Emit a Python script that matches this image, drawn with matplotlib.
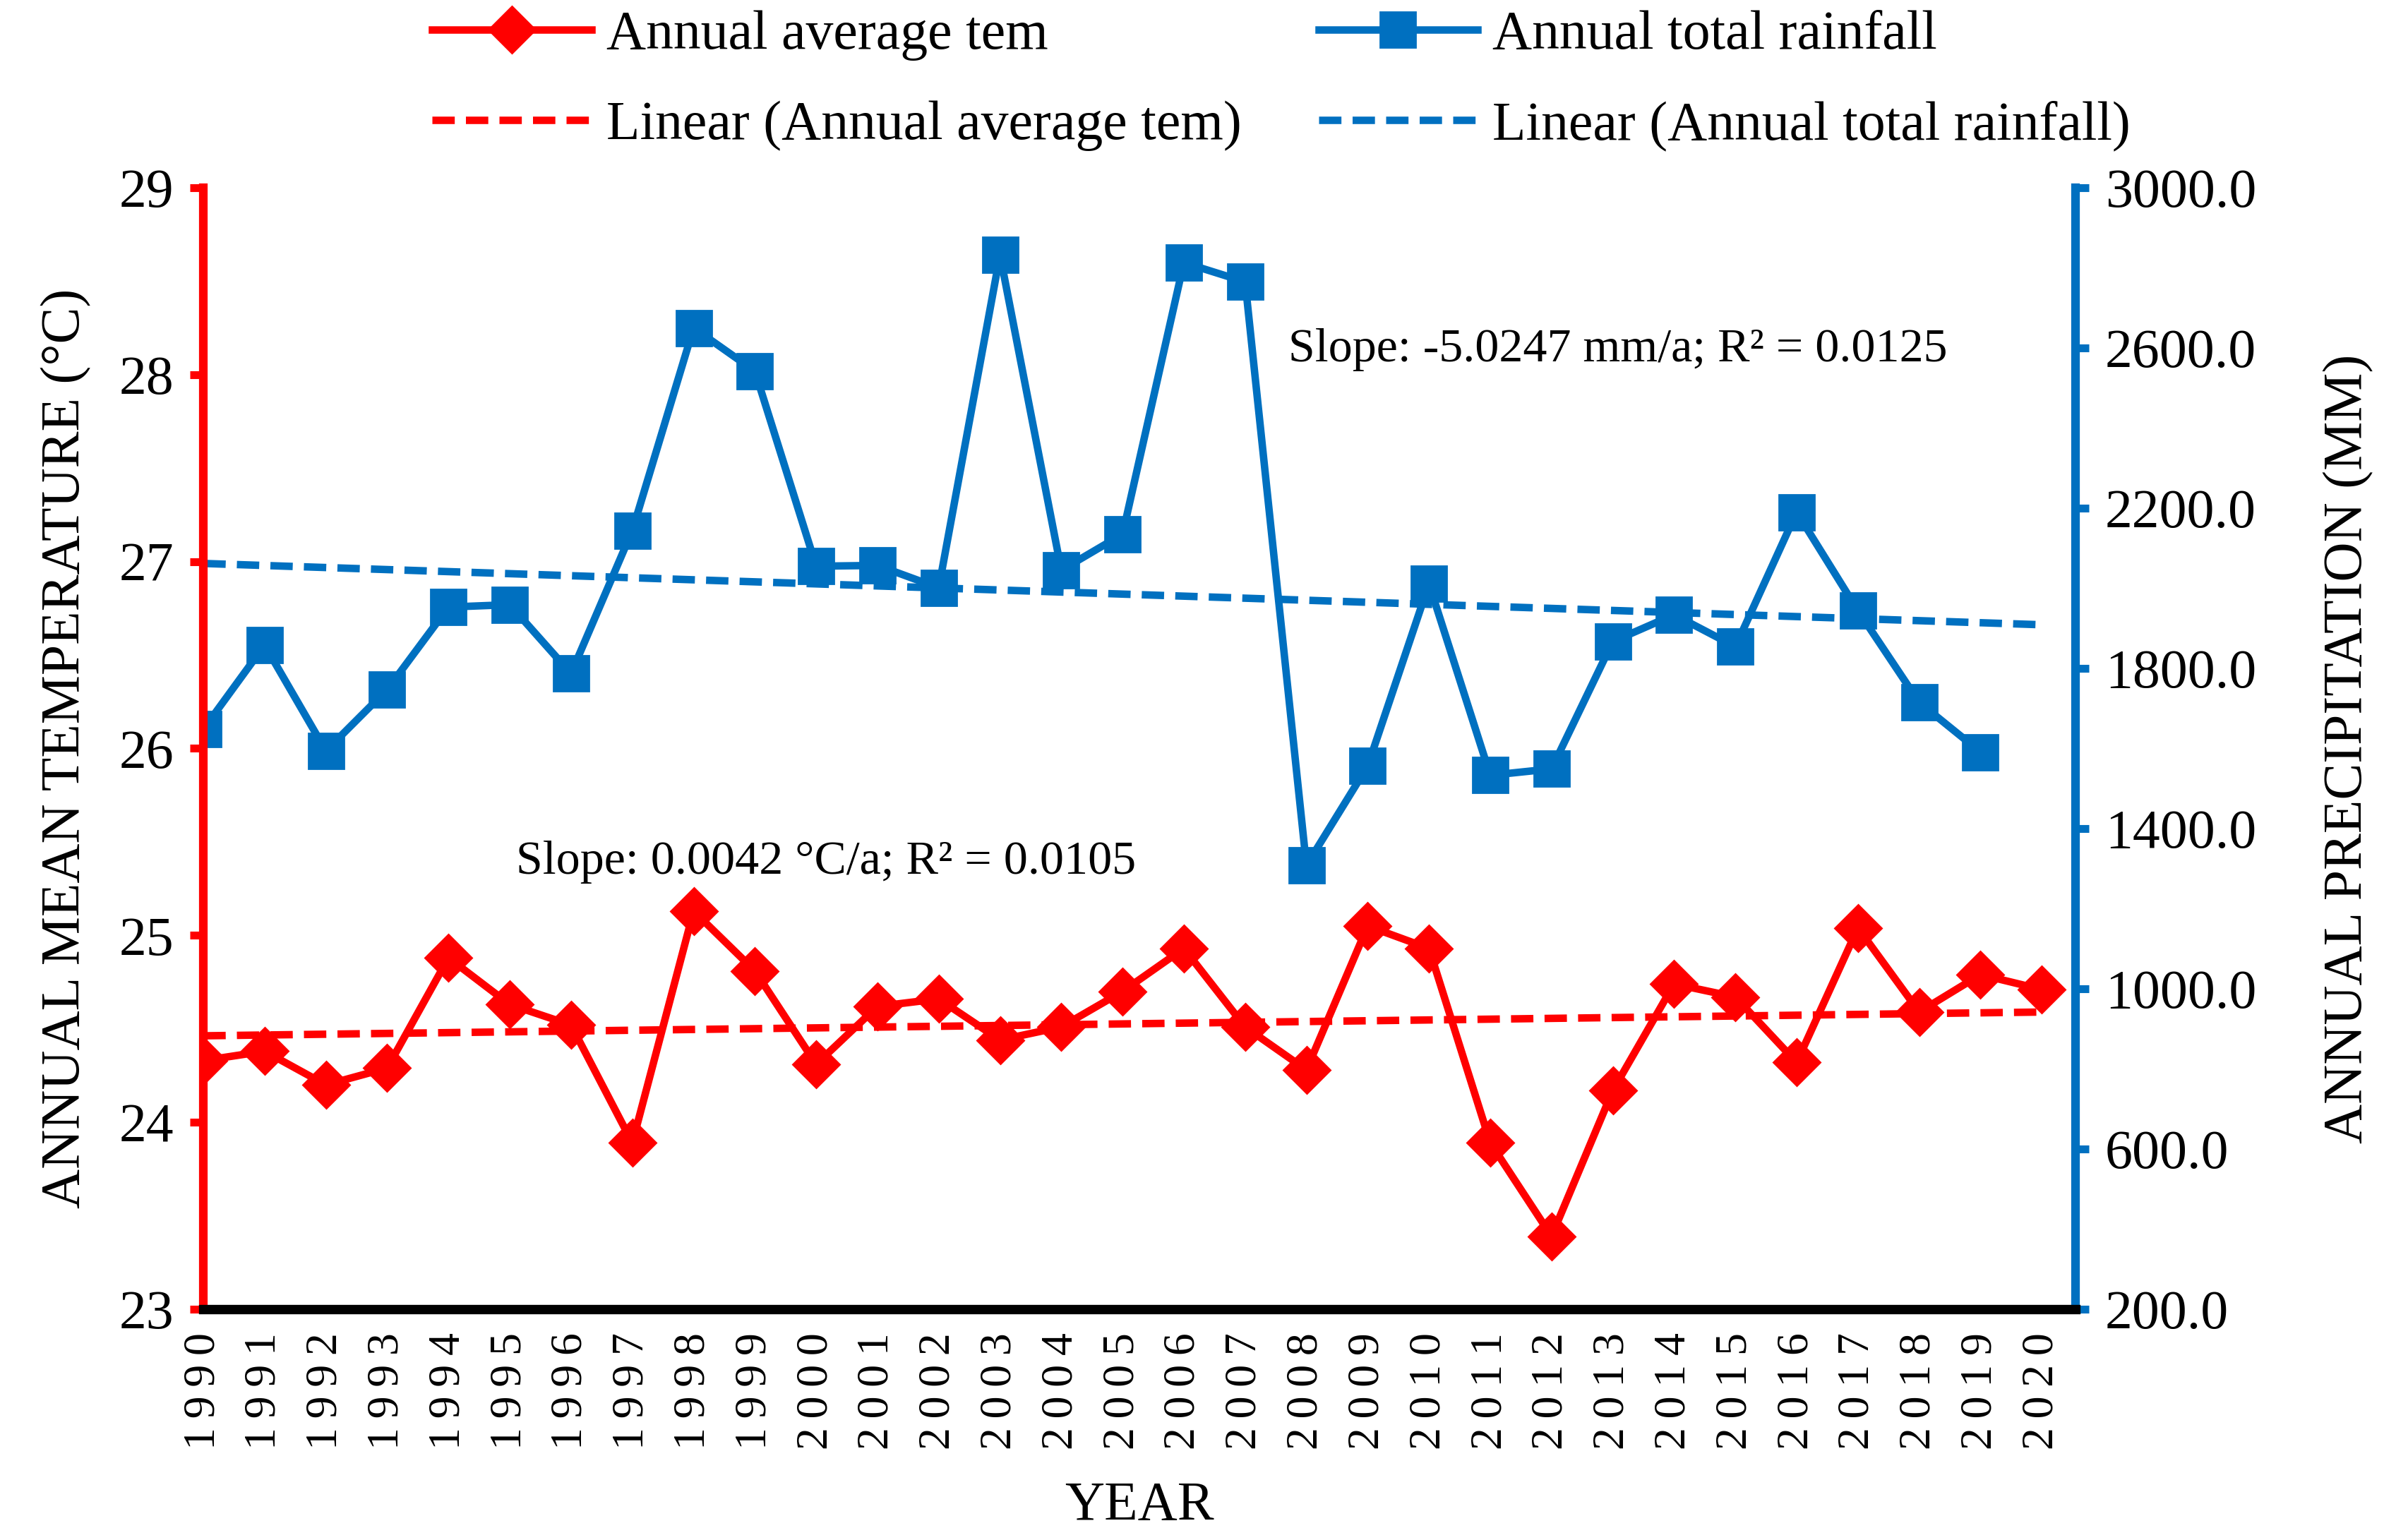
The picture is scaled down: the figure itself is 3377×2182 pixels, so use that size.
import numpy as np
import matplotlib
matplotlib.use("Agg")
import matplotlib.pyplot as plt
from matplotlib.ticker import FuncFormatter

plt.rcParams['font.family'] = ['Liberation Serif', 'DejaVu Serif']

years = list(range(1990, 2021))
temp = [24.33, 24.38, 24.20, 24.29, 24.88, 24.63, 24.52, 23.89, 25.13, 24.81,
        24.31, 24.62, 24.66, 24.44, 24.51, 24.70, 24.93, 24.51, 24.28, 25.05,
        24.93, 23.89, 23.39, 24.17, 24.74, 24.67, 24.32, 25.04, 24.59, 24.79, 24.71]
rain_years = list(range(1990, 2020))
rain = [1648, 1858, 1594, 1747, 1953, 1959, 1787, 2144, 2650, 2542,
        2055, 2057, 2001, 2832, 2045, 2135, 2813, 2765, 1308, 1556,
        2011, 1533, 1549, 1867, 1934, 1854, 2190, 1944, 1715, 1591]
temp_ticks = [23, 24, 25, 26, 27, 28, 29]
rain_ticks = [200, 600, 1000, 1400, 1800, 2200, 2600, 3000]
temp_note = "Slope: 0.0042 \u00b0C/a; R\u00b2 = 0.0105"
rain_note = "Slope: -5.0247 mm/a; R\u00b2 = 0.0125"

RED = '#FF0000'
BLUE = '#0070C0'

fig = plt.figure(figsize=(3377/200, 2182/200), dpi=200)
ax = fig.add_axes([0.0853, 0.1499, 0.8706-0.0853, 0.8781-0.1499])
ax2 = ax.twinx()

yrs = np.array(years, dtype=float)
pt = np.polyfit(np.array(years, float), np.array(temp), 1)
pr = np.polyfit(np.array(rain_years, float), np.array(rain, float), 1)

LW = 3.8
l1, = ax.plot(years, temp, color=RED, lw=LW, marker='D', ms=17, zorder=4,
              label='Annual average tem')
l3, = ax.plot(yrs, np.polyval(pt, yrs), color=RED, lw=LW, ls=(0, (3, 1.5)),
              zorder=3, label='Linear (Annual average tem)')
l2, = ax2.plot(rain_years, rain, color=BLUE, lw=LW, marker='s', ms=18, zorder=4,
               label='Annual total rainfall')
l4, = ax2.plot(yrs, np.polyval(pr, yrs), color=BLUE, lw=LW, ls=(0, (3, 1.5)),
               zorder=3, label='Linear (Annual total rainfall)')

ax.set_xlim(1990, 2020.55)
ax.set_ylim(23, 29)
ax2.set_ylim(200, 3000)

ax.set_yticks(temp_ticks)
ax2.set_yticks(rain_ticks)
ax2.yaxis.set_major_formatter(FuncFormatter(lambda v, p: f"{v:.1f}"))
ax.set_xticks(years)
ax.set_xticklabels(["\u2009".join(str(y)) for y in years], rotation=90)

for a in (ax, ax2):
    a.spines['top'].set_visible(False)
ax.spines['left'].set_color(RED)
ax.spines['left'].set_linewidth(4.4)
ax.spines['right'].set_visible(False)
ax2.spines['left'].set_visible(False)
ax2.spines['bottom'].set_visible(False)
ax2.spines['right'].set_color(BLUE)
ax2.spines['right'].set_linewidth(4.4)
ax.spines['bottom'].set_color('black')
ax.spines['bottom'].set_linewidth(4.8)
ax.spines['bottom'].set_zorder(5)

ax.tick_params(axis='y', colors=RED, labelcolor='black', length=7, width=4.0,
               direction='out', labelsize=28, pad=8)
ax2.tick_params(axis='y', colors=BLUE, labelcolor='black', length=7, width=4.0,
                direction='out', labelsize=28, pad=8)
ax.tick_params(axis='x', which='major', length=0, labelsize=23, pad=12)
ax.set_xticks([y for y in years if y % 2 == 0], minor=True)
ax.tick_params(axis='x', which='minor', direction='in', length=10, width=4.2,
               color='black')

ax.set_ylabel('ANNUAL MEAN TEMPERATURE (\u00b0C)', fontsize=28, labelpad=14)
ax2.set_ylabel('ANNUAL PRECIPITATION (MM)', fontsize=28, labelpad=34)
ax.set_xlabel('YEAR', fontsize=28, labelpad=16)

ax.text(1995.1, 25.39, temp_note, fontsize=24.5, ha='left', va='center')
ax2.text(2007.7, 2596, rain_note, fontsize=24.5, ha='left', va='center')

ax.set_zorder(ax2.get_zorder() + 1)
ax.patch.set_visible(False)

fig.legend(handles=[l1, l3, l2, l4], ncol=2, loc='center',
           bbox_to_anchor=(0.5375, 0.9475), frameon=False, fontsize=28,
           handlelength=2.9, handletextpad=0.27, columnspacing=1.4,
           labelspacing=0.72, borderpad=0)

fig.savefig('out.png', dpi=200)
